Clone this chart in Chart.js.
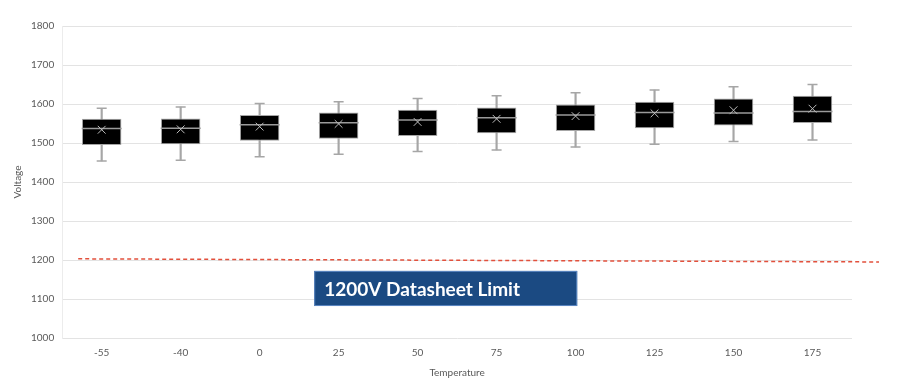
<!DOCTYPE html>
<html>
<head>
<meta charset="utf-8">
<script src="https://cdn.jsdelivr.net/npm/chart.js@4"></script>
<style>
  html, body { margin: 0; padding: 0; background: #fff; }
  #wrap { width: 900px; height: 388px; }
</style>
</head>
<body>
<div id="wrap"><canvas id="voltageChart"></canvas></div>
<script>
// values
const temperatures = ['-55', '-40', '0', '25', '50', '75', '100', '125', '150', '175'];
const whiskerMin = [1454, 1456, 1465, 1471, 1478, 1482, 1490, 1497, 1504, 1508];
const quartile1  = [1495, 1497, 1506, 1511, 1518, 1525, 1531, 1538, 1545, 1551];
const medians    = [1537, 1538, 1547, 1552, 1559, 1565, 1572, 1578, 1577, 1581];
const quartile3  = [1562, 1563, 1572, 1578, 1585, 1591, 1599, 1606, 1614, 1621];
const whiskerMax = [1589, 1592, 1601, 1606, 1614, 1621, 1629, 1636, 1644, 1650];
const means      = [1534, 1535, 1542, 1549, 1554, 1562, 1569, 1576, 1584, 1588];

const yMin = 1000, yMax = 1800, yStep = 100;
// the dashed limit line runs slightly downhill in the picture
const limitStart = 1203, limitEnd = 1195;
const limitLabel = '1200V Datasheet Limit';
const labelTop = 1172, labelBottom = 1082;

const FONT = 'Lato, "Open Sans", sans-serif';
const GREY = '#a6a6a6';

// dashed limit line + blue label box
const limitPlugin = {
    id: 'limit',
    afterDatasetsDraw(chart) {
        const { ctx, chartArea, scales } = chart;
        const y = scales.y;
        const x0 = chartArea.left + 16, x1 = chartArea.right + 27;

        ctx.save();
        ctx.strokeStyle = '#e2503c';
        ctx.lineWidth = 1.5;
        ctx.setLineDash([4, 3]);
        ctx.beginPath();
        ctx.moveTo(x0, y.getPixelForValue(limitStart));
        ctx.lineTo(x1, y.getPixelForValue(limitEnd));
        ctx.stroke();
        ctx.setLineDash([]);

        const bx = chartArea.left + 252;
        const bw = 263;
        const by = y.getPixelForValue(labelTop);
        const bh = y.getPixelForValue(labelBottom) - by;
        ctx.fillStyle = '#1b4a82';
        ctx.fillRect(bx, by, bw, bh);
        ctx.strokeStyle = '#5b86c0';
        ctx.lineWidth = 1;
        ctx.strokeRect(bx + 0.5, by + 0.5, bw - 1, bh - 1);

        ctx.fillStyle = '#ffffff';
        ctx.font = 'bold 19px ' + FONT;
        ctx.textBaseline = 'middle';
        ctx.textAlign = 'left';
        ctx.fillText(limitLabel, bx + 10, by + bh / 2 + 1);
        ctx.restore();
    }
};

const ctx = document.getElementById('voltageChart').getContext('2d');

new Chart(ctx, {
    data: {
        labels: temperatures,
        datasets: [
            {
                // mean marker
                type: 'line',
                data: means,
                showLine: false,
                pointStyle: 'crossRot',
                pointRadius: 5.5,
                pointHoverRadius: 5.5,
                pointBorderColor: '#bdbdbd',
                pointBorderWidth: 1,
                order: 1
            },
            {
                // median line
                type: 'line',
                data: medians,
                showLine: false,
                pointStyle: 'line',
                pointRadius: 20,
                pointHoverRadius: 20,
                pointBorderColor: '#9a9a9a',
                pointBorderWidth: 1.5,
                order: 2
            },
            {
                // box q1..q3
                type: 'bar',
                data: quartile1.map((q, i) => [q, quartile3[i]]),
                backgroundColor: '#000000',
                borderColor: GREY,
                borderWidth: 1,
                borderSkipped: false,
                grouped: false,
                categoryPercentage: 1,
                barPercentage: 0.5,
                order: 3
            },
            {
                // whisker caps
                type: 'line',
                data: whiskerMax,
                showLine: false,
                pointStyle: 'line',
                pointRadius: 5,
                pointHoverRadius: 5,
                pointBorderColor: GREY,
                pointBorderWidth: 1.5,
                order: 4
            },
            {
                type: 'line',
                data: whiskerMin,
                showLine: false,
                pointStyle: 'line',
                pointRadius: 5,
                pointHoverRadius: 5,
                pointBorderColor: GREY,
                pointBorderWidth: 1.5,
                order: 5
            },
            {
                // whisker stem min..max
                type: 'bar',
                data: whiskerMin.map((m, i) => [m, whiskerMax[i]]),
                backgroundColor: GREY,
                borderWidth: 0,
                grouped: false,
                barThickness: 1.5,
                order: 6
            }
        ]
    },
    options: {
        responsive: true,
        maintainAspectRatio: false,
        animation: false,
        layout: { padding: { left: 8, right: 48, top: 26, bottom: 5 } },
        plugins: {
            legend: { display: false },
            tooltip: { enabled: false }
        },
        scales: {
            x: {
                grid: { display: false },
                border: { display: false },
                ticks: { color: '#595959', font: { family: FONT, size: 10 }, padding: 1 },
                title: { display: true, text: 'Temperature', color: '#595959', font: { family: FONT, size: 10 }, padding: { top: 7 } }
            },
            y: {
                min: yMin,
                max: yMax,
                ticks: {
                    stepSize: yStep,
                    color: '#595959',
                    font: { family: FONT, size: 10 },
                    padding: 8,
                    callback: v => String(v)
                },
                grid: { color: '#e3e3e3', drawTicks: false },
                border: { display: true, color: '#ececec' },
                title: { display: true, text: 'Voltage', color: '#595959', font: { family: FONT, size: 10 }, padding: { bottom: -1 } }
            }
        }
    },
    plugins: [limitPlugin]
});
</script>
</body>
</html>
